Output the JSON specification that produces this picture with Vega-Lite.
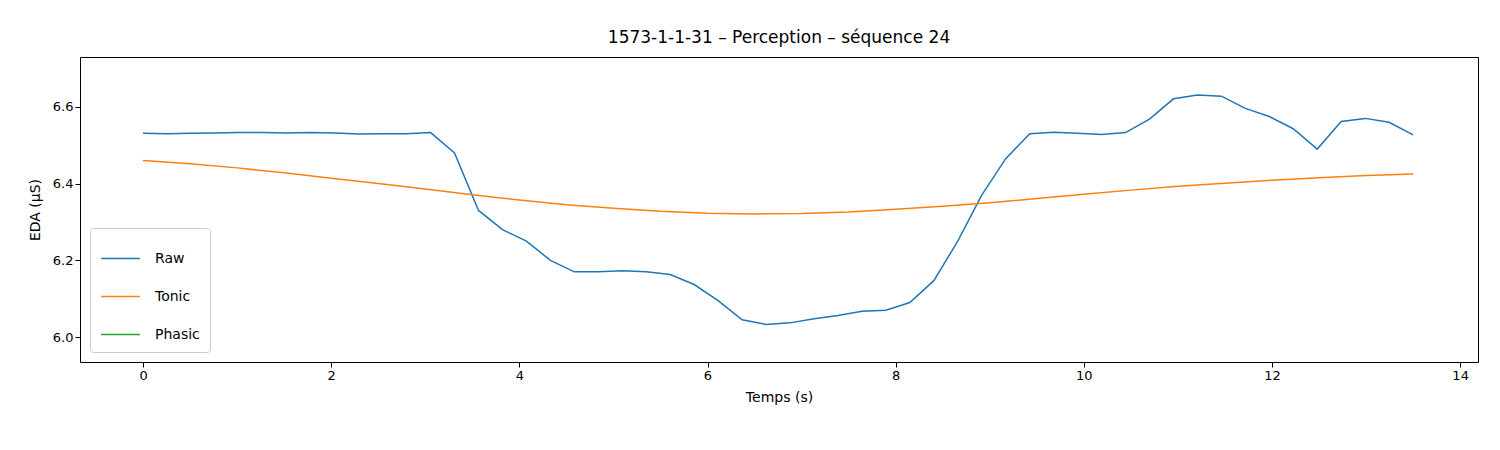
{
  "$schema": "https://vega.github.io/schema/vega-lite/v6.json",
  "width": 1398,
  "height": 305,
  "padding": {"left": 80, "top": 57, "right": 22, "bottom": 88},
  "autosize": {"type": "none"},
  "title": {"text": "1573-1-1-31 – Perception – séquence 24", "fontSize": 17, "fontWeight": "normal", "font": "DejaVu Sans", "offset": 10},
  "config": {
    "font": "DejaVu Sans",
    "view": {"stroke": "black", "strokeWidth": 1},
    "axis": {"grid": false, "domain": false, "tickColor": "black", "tickSize": 5, "labelFontSize": 13, "labelColor": "black", "titleFontSize": 14, "titleFontWeight": "normal", "titleColor": "black"}
  },
  "data": {"values": [
    {"t":0,"v":6.531,"s":"Raw"},{"t":0.255,"v":6.530,"s":"Raw"},{"t":0.509,"v":6.531,"s":"Raw"},{"t":0.764,"v":6.532,"s":"Raw"},{"t":1.019,"v":6.533,"s":"Raw"},{"t":1.274,"v":6.533,"s":"Raw"},{"t":1.528,"v":6.532,"s":"Raw"},{"t":1.783,"v":6.533,"s":"Raw"},{"t":2.038,"v":6.532,"s":"Raw"},{"t":2.292,"v":6.529,"s":"Raw"},{"t":2.547,"v":6.530,"s":"Raw"},{"t":2.802,"v":6.530,"s":"Raw"},{"t":3.057,"v":6.533,"s":"Raw"},{"t":3.311,"v":6.480,"s":"Raw"},{"t":3.566,"v":6.330,"s":"Raw"},{"t":3.821,"v":6.280,"s":"Raw"},{"t":4.075,"v":6.250,"s":"Raw"},{"t":4.330,"v":6.200,"s":"Raw"},{"t":4.585,"v":6.170,"s":"Raw"},{"t":4.840,"v":6.170,"s":"Raw"},{"t":5.094,"v":6.173,"s":"Raw"},{"t":5.349,"v":6.170,"s":"Raw"},{"t":5.604,"v":6.163,"s":"Raw"},{"t":5.858,"v":6.137,"s":"Raw"},{"t":6.113,"v":6.095,"s":"Raw"},{"t":6.368,"v":6.045,"s":"Raw"},{"t":6.623,"v":6.033,"s":"Raw"},{"t":6.877,"v":6.037,"s":"Raw"},{"t":7.132,"v":6.048,"s":"Raw"},{"t":7.387,"v":6.056,"s":"Raw"},{"t":7.642,"v":6.067,"s":"Raw"},{"t":7.896,"v":6.070,"s":"Raw"},{"t":8.151,"v":6.090,"s":"Raw"},{"t":8.406,"v":6.147,"s":"Raw"},{"t":8.660,"v":6.250,"s":"Raw"},{"t":8.915,"v":6.370,"s":"Raw"},{"t":9.170,"v":6.465,"s":"Raw"},{"t":9.425,"v":6.530,"s":"Raw"},{"t":9.679,"v":6.534,"s":"Raw"},{"t":9.934,"v":6.531,"s":"Raw"},{"t":10.189,"v":6.528,"s":"Raw"},{"t":10.443,"v":6.533,"s":"Raw"},{"t":10.698,"v":6.568,"s":"Raw"},{"t":10.953,"v":6.621,"s":"Raw"},{"t":11.208,"v":6.631,"s":"Raw"},{"t":11.462,"v":6.628,"s":"Raw"},{"t":11.717,"v":6.596,"s":"Raw"},{"t":11.972,"v":6.575,"s":"Raw"},{"t":12.226,"v":6.543,"s":"Raw"},{"t":12.481,"v":6.490,"s":"Raw"},{"t":12.736,"v":6.562,"s":"Raw"},{"t":12.991,"v":6.570,"s":"Raw"},{"t":13.245,"v":6.560,"s":"Raw"},{"t":13.5,"v":6.527,"s":"Raw"},
    {"t":0,"v":6.460,"s":"Tonic"},{"t":0.5,"v":6.452,"s":"Tonic"},{"t":1,"v":6.441,"s":"Tonic"},{"t":1.5,"v":6.428,"s":"Tonic"},{"t":2,"v":6.414,"s":"Tonic"},{"t":2.5,"v":6.400,"s":"Tonic"},{"t":3,"v":6.386,"s":"Tonic"},{"t":3.5,"v":6.371,"s":"Tonic"},{"t":4,"v":6.357,"s":"Tonic"},{"t":4.5,"v":6.345,"s":"Tonic"},{"t":5,"v":6.336,"s":"Tonic"},{"t":5.5,"v":6.328,"s":"Tonic"},{"t":6,"v":6.323,"s":"Tonic"},{"t":6.5,"v":6.321,"s":"Tonic"},{"t":7,"v":6.322,"s":"Tonic"},{"t":7.5,"v":6.326,"s":"Tonic"},{"t":8,"v":6.333,"s":"Tonic"},{"t":8.5,"v":6.341,"s":"Tonic"},{"t":9,"v":6.350,"s":"Tonic"},{"t":9.5,"v":6.361,"s":"Tonic"},{"t":10,"v":6.372,"s":"Tonic"},{"t":10.5,"v":6.383,"s":"Tonic"},{"t":11,"v":6.393,"s":"Tonic"},{"t":11.5,"v":6.401,"s":"Tonic"},{"t":12,"v":6.409,"s":"Tonic"},{"t":12.5,"v":6.415,"s":"Tonic"},{"t":13,"v":6.421,"s":"Tonic"},{"t":13.5,"v":6.425,"s":"Tonic"}
  ]},
  "mark": {"type": "line", "strokeWidth": 1.5, "clip": true},
  "encoding": {
    "x": {"field": "t", "type": "quantitative", "title": "Temps (s)", "scale": {"domain": [-0.67, 14.19], "nice": false, "zero": false}, "axis": {"values": [0, 2, 4, 6, 8, 10, 12, 14], "titlePadding": 8}},
    "y": {"field": "v", "type": "quantitative", "title": "EDA (µS)", "scale": {"domain": [5.935, 6.73], "nice": false, "zero": false}, "axis": {"values": [6.0, 6.2, 6.4, 6.6], "format": ".1f", "titlePadding": 10}},
    "color": {"field": "s", "type": "nominal", "title": null,
      "scale": {"domain": ["Raw", "Tonic", "Phasic"], "range": ["#1f77b4", "#ff7f0e", "#2ca02c"]},
      "legend": {"orient": "bottom-left", "symbolType": "stroke", "symbolSize": 1500, "symbolStrokeWidth": 1.5, "labelFontSize": 14, "labelColor": "black", "labelOffset": 14, "rowPadding": 10, "padding": 10, "offset": 10, "fillColor": "white", "strokeColor": "#cccccc", "cornerRadius": 3, "labelLimit": 200, "symbolOffset": 0}}
  }
}
